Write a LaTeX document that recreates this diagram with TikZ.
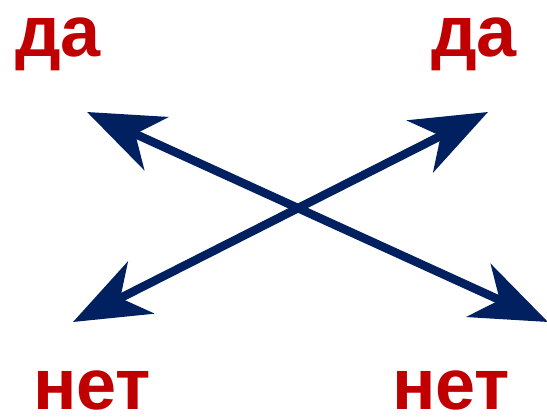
\documentclass[tikz,border=0pt]{standalone}
\usepackage{fontspec}
\setmainfont{Liberation Sans}
\usepackage{tikz}
\usetikzlibrary{arrows.meta}
\definecolor{darkred}{HTML}{C00000}
\definecolor{navy}{HTML}{002060}

\begin{document}
\begin{tikzpicture}[x=1pt,y=-1pt]
      \tikzstyle{answer}=[text=darkred,font=\fontsize{72}{80}\selectfont\bfseries,inner sep=0pt,anchor=base]
      \tikzstyle{arrow}=[draw=navy,line width=8.5pt,{Stealth[length=76pt,width=58pt,inset=23pt]}-{Stealth[length=76pt,width=58pt,inset=23pt]}]
      \useasboundingbox (0,0) rectangle (547,417);
      \node[answer] (yesleft) at (58,57) {да};
      \node[answer] (yesright) at (474,57) {да};
      \node[answer] (noleft) at (92,409) {нет};
      \node[answer] (noright) at (451,409) {нет};
      \coordinate (topleft) at (87,112);
      \coordinate (topright) at (488,112);
      \coordinate (bottomleft) at (73,322);
      \coordinate (bottomright) at (548,322);
      \draw[arrow] (topleft) -- (bottomright);
      \draw[arrow] (bottomleft) -- (topright);
\end{tikzpicture}
\end{document}
